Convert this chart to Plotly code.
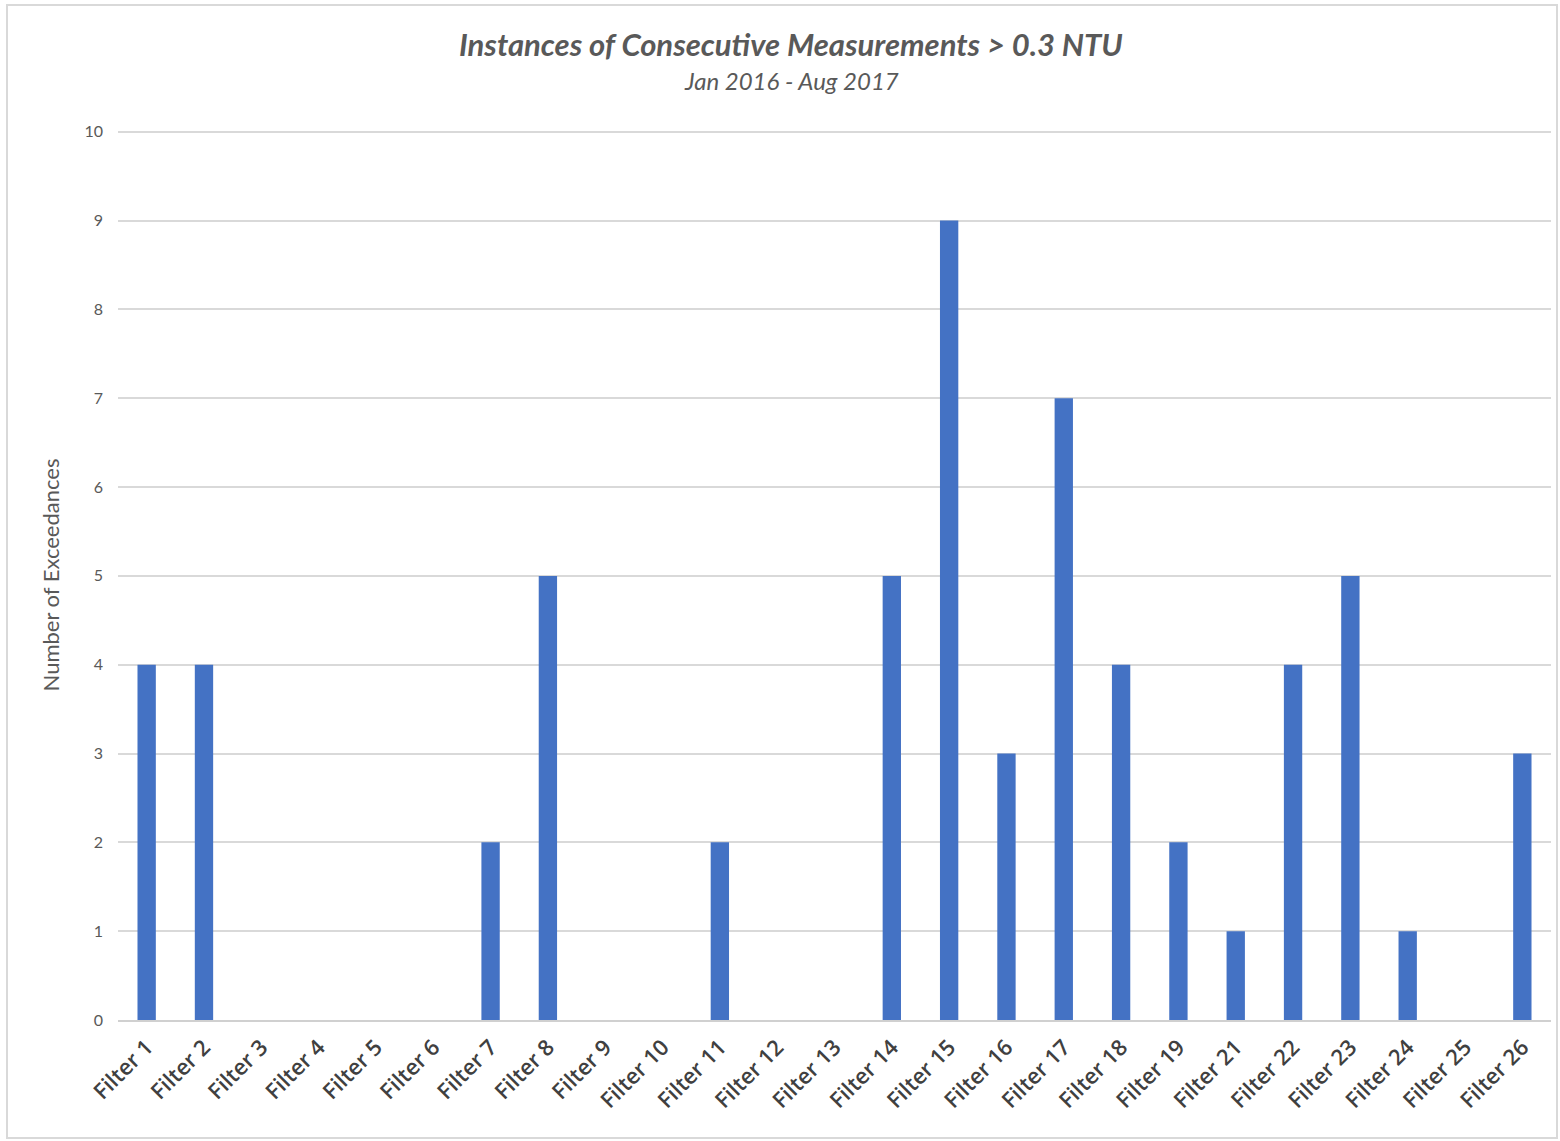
import plotly.graph_objects as go

# Filter names (there is no Filter 20) and number of exceedances per filter
filters = ["Filter 1", "Filter 2", "Filter 3", "Filter 4", "Filter 5", "Filter 6",
           "Filter 7", "Filter 8", "Filter 9", "Filter 10", "Filter 11", "Filter 12",
           "Filter 13", "Filter 14", "Filter 15", "Filter 16", "Filter 17", "Filter 18",
           "Filter 19", "Filter 21", "Filter 22", "Filter 23", "Filter 24", "Filter 25",
           "Filter 26"]
exceedances = [4, 4, 0, 0, 0, 0, 2, 5, 0, 0, 2, 0, 0, 5, 9, 3, 7, 4, 2, 1, 4, 5, 1, 0, 3]
y_ticks = list(range(0, 11))

FONT = "Lato, 'Open Sans', sans-serif"
TICK_FONT = "'Open Sans', sans-serif"

fig = go.Figure(
    go.Bar(x=filters, y=exceedances, marker=dict(color="#4472C4", line=dict(width=0)))
)

fig.update_layout(
    width=1560, height=1141,
    margin=dict(l=118, r=9, t=130, b=121),
    paper_bgcolor="white", plot_bgcolor="white",
    bargap=0.68,
    showlegend=False,
    font=dict(family=FONT, color="#595959"),
    title=dict(
        text="<b><i>Instances of Consecutive Measurements > 0.3 NTU</i></b>",
        x=0.507, xref="container", xanchor="center",
        y=1 - 45 / 1141, yref="container", yanchor="middle",
        font=dict(size=31, color="#595959", family=FONT),
    ),
    annotations=[dict(
        text="<i>Jan 2016 - Aug 2017</i>",
        xref="paper", yref="paper",
        x=(791 - 118) / 1433, y=(1020 - 80) / 890,
        xanchor="center", yanchor="middle", showarrow=False,
        font=dict(size=24, color="#595959", family=FONT),
    )],
    shapes=[dict(
        type="rect", xref="paper", yref="paper",
        x0=(7 - 118) / 1433, x1=(1557 - 118) / 1433,
        y0=(1020 - 1138) / 890, y1=(1020 - 5) / 890,
        line=dict(color="#d9d9d9", width=2), fillcolor="rgba(0,0,0,0)", layer="below",
    )],
)

fig.update_xaxes(
    type="category",
    tickangle=-45,
    tickfont=dict(size=22, color="#404040", family=TICK_FONT, weight=600),
    ticklabelstandoff=4,
    showgrid=False,
    showline=True, linecolor="#d0d0d0", linewidth=1.5,
    ticks="",
)
fig.update_yaxes(
    range=[0, 10.02],
    tickvals=y_ticks,
    tickfont=dict(size=16, color="#595959", family=FONT),
    ticklabelstandoff=14,
    showgrid=True, gridcolor="#d9d9d9", gridwidth=1.5,
    zeroline=False, showline=False, ticks="",
    title=dict(text="Number of Exceedances", font=dict(size=22, color="#595959", family=FONT),
               standoff=18),
)

fig.write_html("out.html")
